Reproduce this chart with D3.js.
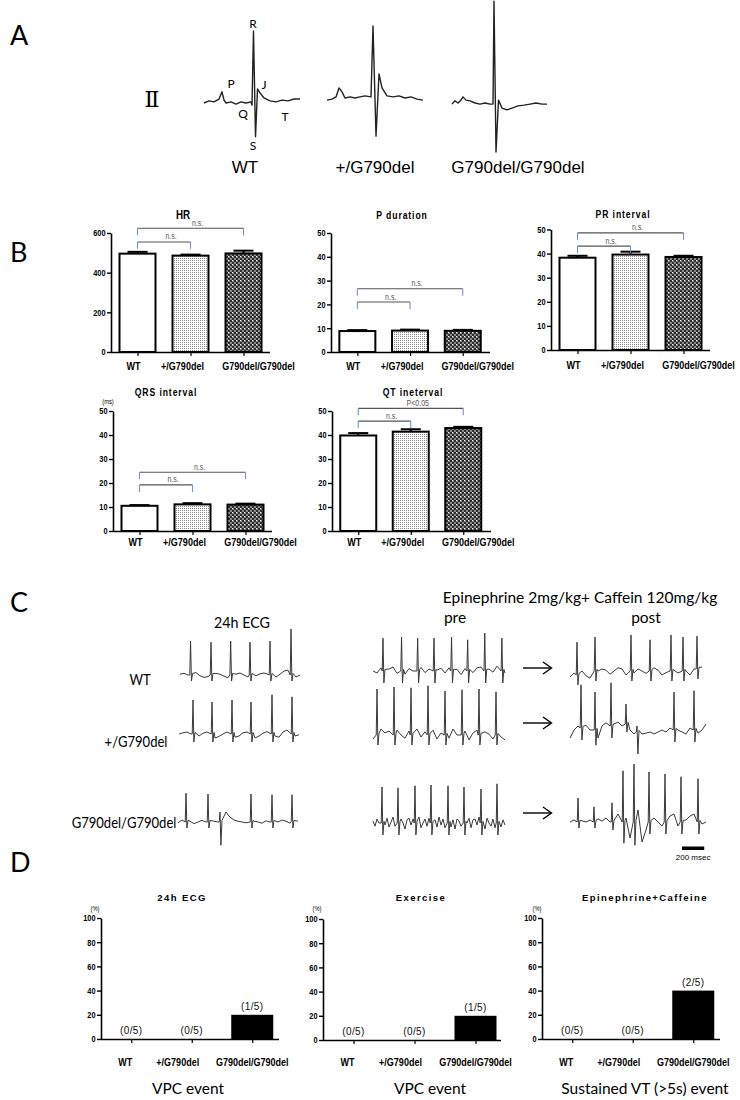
<!DOCTYPE html>
<html><head><meta charset="utf-8">
<script src="https://cdn.jsdelivr.net/npm/d3@7"></script>
<style>body{margin:0;background:#fff}svg{display:block}</style>
</head><body>
<svg id="fig" width="740" height="1100"></svg>
<script>
// ---------------- DATA ----------------
const groups = ["WT", "+/G790del", "G790del/G790del"];
// Panel B (mean, SEM)
const hrMean = [496, 486, 497], hrSem = [9, 5, 14];
const pMean = [8.8, 9.0, 8.9], pSem = [0.4, 0.4, 0.4];
const prMean = [38.3, 39.6, 38.6], prSem = [0.8, 1.2, 0.5];
const qrsMean = [10.5, 11.1, 11.0], qrsSem = [0.3, 0.5, 0.4];
const qtMean = [39.8, 41.4, 42.9], qtSem = [1.0, 1.0, 0.5];
const hrTicks = [0, 200, 400, 600];
const msTicks = [0, 10, 20, 30, 40, 50];
// significance brackets: [from, to, level, label]
const hrSig = [[0, 1, 555, "n.s."], [0, 2, 624, "n.s."]];
const pSig = [[0, 1, 21, "n.s."], [0, 2, 26.6, "n.s."]];
const prSig = [[0, 1, 43.1, "n.s."], [0, 2, 48.6, "n.s."]];
const qrsSig = [[0, 1, 19.2, "n.s."], [0, 2, 24.5, "n.s."]];
const qtSig = [[0, 1, 45.8, "n.s."], [0, 2, 51.1, "P<0.05"]];
// Panel D (% of mice)
const pctTicks = [0, 20, 40, 60, 80, 100];
const vpc24h = [0, 0, 20], vpc24hN = ["(0/5)", "(0/5)", "(1/5)"];
const vpcEx = [0, 0, 20], vpcExN = ["(0/5)", "(0/5)", "(1/5)"];
const vtEpi = [0, 0, 40], vtEpiN = ["(0/5)", "(0/5)", "(2/5)"];

// Panel A: representative lead II complexes [ms, mV]
const ecgWT = [[0,0],[10,0.06],[20,0.03],[30,0.11],[36,0.31],[40,0.08],[44,0],[54,0.03],[64,-0.03],[74,0.03],[84,0],[94,0.03],[96,-0.06],[99,2.0],[103,-0.94],[107,0.39],[112,0.28],[120,0.14],[132,0.06],[144,0.03],[156,0.08],[168,0.06],[180,0.11],[192,0.11]];
const ecgHet = [[0,-0.06],[10,-0.03],[18,0.03],[24,0.28],[30,0.17],[36,0],[46,0.03],[56,0],[66,0.03],[76,0.06],[88,0.03],[92,2.0],[98,-1.06],[104,0.67],[110,0.28],[120,0.06],[132,0.03],[144,0.06],[156,0],[168,0.03],[180,-0.03],[192,-0.06]];
const ecgHom = [[0,-0.03],[6,0.06],[12,0],[18,0.08],[22,0.17],[28,0.08],[36,0.06],[46,0],[56,-0.03],[66,0],[76,-0.03],[82,-0.03],[84,2.83],[88,-1.36],[93,0.08],[100,-0.14],[110,-0.19],[120,-0.14],[132,-0.08],[144,-0.06],[156,-0.03],[168,0],[180,-0.03],[190,-0.03]];

// Panel C: beats [ms, R, S, level] and baseline samples
const wt24Beats = [[95,0.85,0.15,0],[279,0.82,0.15,0],[456,0.85,0.15,0],[630,0.82,0.15,0],[810,0.85,0.15,0],[999,1.15,0.15,0]];
const wt24Base = [0.02,0.04,0.0,0.03,0.06,-0.02,-0.06,-0.04,0.0,0.04,0.02,-0.03,-0.07,-0.04,0.02,0.05,0.0,-0.05,-0.07,-0.02,0.03,0.05,0.02,-0.04,-0.05,0.02,0.1,0.12,0.02,-0.05,0.0];
const wtPreBeats = [[90,0.82,0.3,0],[257,0.85,0.3,0],[402,0.82,0.3,0],[549,0.82,0.3,0],[707,0.85,0.3,0],[852,0.78,0.3,0],[1006,0.95,0.3,0],[1160,0.82,0.3,0]];
const wtPreBase = [0.0,-0.05,0.08,-0.1,0.05,0.1,-0.06,0.04,-0.08,0.06,0.0,-0.07,0.09,-0.04,0.05,-0.1,0.02,0.07,-0.05,0.08,-0.02,0.04,-0.09,0.06,0.0,-0.04,0.08,0.1,-0.06,0.05,-0.03,0.12,0.0,-0.05];
const wtPostBeats = [[63,0.82,0.25,-0.1],[225,0.85,0.25,0],[549,0.9,0.25,0],[720,0.78,0.25,0],[909,0.9,0.25,0],[1017,0.85,0.25,0],[1143,0.82,0.25,0.05]];
const wtPostBase = [-0.15,-0.05,0.05,0.0,-0.12,-0.18,-0.1,0.0,0.05,0.02,-0.08,0.0,0.08,0.05,-0.1,-0.2,-0.05,0.05,0.0,-0.06,0.04,0.08,0.02,-0.1,-0.04,0.06,0.02,-0.05,0.08,0.0,-0.1,0.05,0.08,0.1];
const het24Beats = [[126,0.85,0.2,0],[297,0.8,0.2,0],[477,0.85,0.2,0],[648,0.8,0.2,0],[837,0.98,0.2,0],[1017,0.93,0.2,0]];
const het24Base = [0.0,0.03,0.05,0.0,-0.08,-0.05,0.02,0.05,0.0,-0.1,-0.06,0.0,0.05,0.02,-0.08,-0.05,0.03,0.05,0.0,-0.1,-0.05,0.02,0.06,0.03,-0.05,-0.08,0.05,0.1,0.03,-0.05,-0.02];
const hetPreBeats = [[36,1.15,0.25,0],[189,1.2,0.25,0],[342,1.18,0.25,0],[495,1.23,0.25,0],[648,1.1,0.25,0],[801,1.13,0.25,0],[954,1.15,0.25,0],[1107,1.08,0.25,0]];
const hetPreBase = [-0.1,0.02,0.15,0.05,0.1,-0.05,0.12,0.0,-0.08,0.1,0.02,0.15,-0.05,0.08,0.0,0.12,-0.1,0.05,0.1,-0.08,0.15,0.0,-0.05,0.1,-0.12,0.05,0.12,-0.05,0.08,0.02,-0.1,0.1,-0.05,-0.12];
const hetPostBeats = [[99,1.08,0.3,0.05],[225,0.95,0.38,0],[369,1.08,0.3,0.1],[504,0.5,0.2,0.15],[603,0.15,0.55,-0.05],[936,0.95,0.3,0],[1116,0.98,0.3,0]];
const hetPostBase = [-0.2,0.0,0.1,0.05,0.12,0.0,-0.1,-0.2,0.1,0.18,0.05,0.15,0.2,0.1,0.25,0.0,-0.1,-0.15,-0.1,-0.08,-0.05,-0.1,-0.05,0.0,-0.05,0.05,0.1,0.0,-0.05,-0.1,0.05,0.0,-0.08,0.0,0.15];
const hom24Beats = [[72,0.72,0.15,0],[270,0.7,0.15,0],[378,0.25,0.58,0],[657,0.7,0.15,0],[846,0.68,0.15,0],[1026,0.68,0.15,0]];
const hom24Base = [-0.02,0.05,0.0,0.02,-0.04,0.0,0.04,0.0,-0.03,0.02,0.0,0.2,0.25,0.12,0.05,0.02,0.0,-0.02,0.0,0.02,0.0,-0.03,0.03,0.0,-0.05,0.0,0.05,0.02,-0.03,0.05,0.02];
const homPreBeats = [[81,0.9,0.3,0],[225,0.88,0.3,0],[378,0.93,0.3,0],[522,0.95,0.3,0],[675,0.93,0.3,0],[819,0.9,0.3,0],[972,0.85,0.3,0],[1116,0.98,0.3,0]];
const homPreBase = [0.05,-0.08,0.1,0.0,-0.12,0.08,-0.05,0.12,-0.1,0.02,0.15,-0.08,0.05,-0.12,0.1,0.0,-0.15,0.08,0.12,-0.05,0.1,-0.1,0.05,0.15,-0.12,0.0,0.1,-0.08,0.12,-0.15,0.05,0.08,-0.1,0.15,-0.05,0.1,-0.12,0.02,0.12,-0.1,0.08,-0.15,0.1,0.05,-0.08,0.15,-0.1,0.0,0.12,-0.12,0.08,0.1,-0.05,0.15,-0.1,0.05,-0.15,0.12,0.0,-0.08,0.1,-0.12,0.15,0.05,-0.1,0.08,-0.05];
const homPostBeats = [[72,0.6,0.15,0],[216,0.38,0.15,0],[378,0.48,0.2,0],[477,1.28,0.53,0],[576,1.45,0.58,0],[711,1.25,0.3,0],[855,1.2,0.3,0],[999,1.13,0.3,0],[1152,1.08,0.3,0]];
const homPostBase = [0.0,0.05,-0.02,0.03,0.0,0.05,-0.02,0.08,0.02,0.1,0.0,-0.2,0.2,-0.3,0.1,-0.4,-0.2,0.3,-0.5,-0.2,0.15,0.1,0.0,-0.1,0.05,0.15,0.2,-0.1,0.0,0.05,0.15,0.2,-0.15,-0.05,0.0];
const scaleBarMs = 200;

// ---------------- LAYOUT / STYLE ----------------
const BOLD = "'Liberation Sans',Arial,sans-serif";
const ARIAL = "'Liberation Sans',Arial,sans-serif";
const CAL = "Lato,'Open Sans',sans-serif";
const SQ = 0.82; // horizontal squeeze that imitates a condensed face
const svg = d3.select("#fig");

const defs = svg.append("defs");
const dots = defs.append("pattern").attr("id", "dots").attr("patternUnits", "userSpaceOnUse").attr("width", 2).attr("height", 2);
dots.append("rect").attr("width", 2).attr("height", 2).attr("fill", "#fff");
dots.append("rect").attr("width", 1).attr("height", 1).attr("fill", "#8c8c8c");
const chk = defs.append("pattern").attr("id", "check").attr("patternUnits", "userSpaceOnUse").attr("width", 4).attr("height", 4);
chk.append("rect").attr("width", 4).attr("height", 4).attr("fill", "#2e2e2e");
chk.append("rect").attr("width", 2).attr("height", 2).attr("fill", "#8a8a8a");
chk.append("rect").attr("x", 2).attr("y", 2).attr("width", 2).attr("height", 2).attr("fill", "#8a8a8a");
chk.append("rect").attr("width", 1).attr("height", 1).attr("fill", "#fff");

const barFills = ["#fff", "url(#dots)", "url(#check)"];

function text(x, y, s, o = {}, parent = svg) {
  const t = parent.append("text").text(s)
    .attr("font-family", o.ff || ARIAL).attr("font-size", o.fs || 12)
    .attr("font-weight", o.fw || "normal").attr("text-anchor", o.anchor || "middle")
    .attr("letter-spacing", o.ls || 0).attr("fill", o.fill || "#000");
  if (o.sq) t.attr("transform", `translate(${x},${y}) scale(${o.sq},1)`);
  else t.attr("x", x).attr("y", y);
  return t;
}

function barChart(c) {
  const g = svg.append("g");
  const x = d3.scalePoint().domain(groups).range([c.ax, c.ax + 3 * c.step]).padding(0.5);
  const y = d3.scaleLinear().domain([0, c.max]).range([c.y0, c.y1]);
  g.selectAll("rect.bar").data(c.mean).join("rect").attr("class", "bar")
    .attr("x", (d, i) => x(groups[i]) - c.bw / 2).attr("width", c.bw)
    .attr("y", d => y(d)).attr("height", d => c.y0 - y(d))
    .attr("fill", (d, i) => c.fills[i])
    .attr("stroke", c.stroke ? "#000" : "none").attr("stroke-width", 2);
  if (c.sem) {
    c.mean.forEach((m, i) => {
      const cx = x(groups[i]);
      g.append("line").attr("x1", cx).attr("x2", cx).attr("y1", y(m)).attr("y2", y(m + c.sem[i])).attr("stroke", "#000").attr("stroke-width", 2);
      g.append("line").attr("x1", cx - 10).attr("x2", cx + 10).attr("y1", y(m + c.sem[i])).attr("y2", y(m + c.sem[i])).attr("stroke", "#000").attr("stroke-width", 2);
    });
  }
  const ya = g.append("g").attr("transform", `translate(${c.ax},0)`)
    .call(d3.axisLeft(y).tickValues(c.ticks).tickSize(4).tickSizeOuter(0).tickPadding(1.5));
  ya.select(".domain").attr("stroke-width", 1.6);
  ya.selectAll(".tick line").attr("stroke-width", 1.4);
  ya.selectAll("text").attr("font-family", BOLD).attr("font-weight", "bold").attr("font-size", 9)
    .attr("fill", "#000").attr("x", -5.5 / SQ).attr("transform", `scale(${SQ},1)`);
  const xa = g.append("g").attr("transform", `translate(0,${c.y0})`)
    .call(d3.axisBottom(x).tickSize(4).tickSizeOuter(0).tickFormat(""));
  xa.select(".domain").attr("stroke-width", 1.6).attr("d", `M${c.ax},0.5H${c.ax + c.xlen}`);
  xa.selectAll(".tick line").attr("stroke-width", 1.2);
  groups.forEach((gr, i) => text(x(gr) + c.labShift[i], c.catY, gr, { ff: BOLD, fw: "bold", fs: 11, sq: SQ }, g));
  (c.sig || []).forEach(s => {
    const xa1 = x(groups[s[0]]), xa2 = x(groups[s[1]]), yy = y(s[2]);
    g.append("line").attr("x1", xa1).attr("x2", xa2).attr("y1", yy).attr("y2", yy).attr("stroke", "#555").attr("stroke-width", 1.1);
    [xa1, xa2].forEach(xx => g.append("line").attr("x1", xx).attr("x2", xx).attr("y1", yy).attr("y2", yy + 7).attr("stroke", "#6f93d8").attr("stroke-width", 1.1));
    text((xa1 + xa2) / 2 + 7, yy - 2.5, s[3], { ff: ARIAL, fs: 8.5, fill: "#555", sq: SQ }, g);
  });
  if (c.nLabels) {
    c.mean.forEach((m, i) => text(x(groups[i]), y(m) - 5, c.nLabels[i], { ff: ARIAL, fs: 10, ls: 0.4, fill: "#111" }, g));
  }
  text(c.tx, c.ty, c.title, { ff: BOLD, fw: "bold", fs: c.ts, ls: c.tls, sq: c.tsq });
  if (c.unit) text(c.unitX, c.unitY, c.unit, { ff: ARIAL, fs: 7, sq: SQ });
}

// Panel letters
[["A", 45], ["B", 262], ["C", 612], ["D", 872]].forEach(([s, y]) => text(10, y, s, { ff: CAL, fs: 27, anchor: "start" }));

// ---------------- Panel A ----------------
text(152, 107, "Ⅱ", { ff: "'DejaVu Serif',serif", fs: 22 });
const aTraces = [
  { data: ecgWT, x0: 204, base: 103 },
  { data: ecgHet, x0: 327, base: 98 },
  { data: ecgHom, x0: 452, base: 103 }
];
aTraces.forEach(t => {
  const x = d3.scaleLinear().domain([0, 192]).range([t.x0, t.x0 + 96]);
  const y = d3.scaleLinear().domain([0, 1]).range([t.base, t.base - 36]);
  svg.append("path").datum(t.data).attr("d", d3.line().x(d => x(d[0])).y(d => y(d[1])))
    .attr("fill", "none").attr("stroke", "#222").attr("stroke-width", 1.4).attr("stroke-linejoin", "round");
});
[["P", 231, 88], ["R", 253, 28], ["J", 264, 89], ["Q", 243, 118], ["T", 285, 121], ["S", 253, 150]].forEach(([s, x, y]) => text(x, y, s, { ff: CAL, fs: 12 }));
text(245, 173, "WT", { fs: 17 });
text(375, 173, "+/G790del", { fs: 17 });
text(518, 173, "G790del/G790del", { fs: 17 });

// ---------------- Panel B ----------------
const bShift = [-4, -8, 15];
const bCharts = [
  { title: "HR", ts: 12, tls: 0, tsq: SQ, tx: 183, ty: 219, ax: 111, step: 53, y0: 352, y1: 233, max: 600, ticks: hrTicks, mean: hrMean, sem: hrSem, sig: hrSig, catY: 370 },
  { title: "P duration", ts: 10.5, tls: 1.1, tsq: SQ, tx: 402, ty: 219, ax: 331, step: 52.7, y0: 352, y1: 233, max: 50, ticks: msTicks, mean: pMean, sem: pSem, sig: pSig, catY: 370 },
  { title: "PR interval", ts: 10.5, tls: 1.1, tsq: SQ, tx: 623, ty: 218, ax: 551, step: 53, y0: 350, y1: 229.5, max: 50, ticks: msTicks, mean: prMean, sem: prSem, sig: prSig, catY: 369 },
  { title: "QRS interval", ts: 10.5, tls: 1.1, tsq: SQ, tx: 166, ty: 396, ax: 113, step: 53, y0: 531, y1: 411, max: 50, ticks: msTicks, mean: qrsMean, sem: qrsSem, sig: qrsSig, catY: 546, unit: "(ms)", unitX: 108, unitY: 404 },
  { title: "QT ineterval", ts: 10.5, tls: 1.1, tsq: SQ, tx: 413, ty: 396, ax: 332, step: 52.5, y0: 531, y1: 411, max: 50, ticks: msTicks, mean: qtMean, sem: qtSem, sig: qtSig, catY: 546 }
];
bCharts.forEach(c => barChart(Object.assign({ bw: 36, xlen: 159, fills: barFills, stroke: true, labShift: bShift }, c)));

// ---------------- Panel C ----------------
text(242, 628, "24h ECG", { ff: CAL, fs: 15.5, sq: 0.92 });
text(580, 603, "Epinephrine 2mg/kg+ Caffein 120mg/kg", { ff: CAL, fs: 15.5 });
text(455, 623, "pre", { ff: CAL, fs: 15.5 });
text(646, 623, "post", { ff: CAL, fs: 15.5 });
text(140, 685, "WT", { ff: CAL, fs: 14.5, sq: 0.9 });
text(136, 747, "+/G790del", { ff: CAL, fs: 14.5, sq: 0.9 });
text(124, 828, "G790del/G790del", { ff: CAL, fs: 14.5, sq: 0.9 });

function tracePoints(beats, base, step) {
  const pts = [];
  base.forEach((v, i) => {
    const t = i * step;
    if (!beats.some(b => t > b[0] - 14 && t < b[0] + 26)) pts.push([t, v]);
  });
  beats.forEach(([t, R, S, l]) => {
    pts.push([t - 7, l], [t, l + R], [t + 8, l - S], [t + 18, l + 0.04]);
  });
  return pts.sort((a, b) => a[0] - b[0]);
}
const cTraces = [
  { beats: wt24Beats, base: wt24Base, step: 36, x0: 180, y0: 675 },
  { beats: wtPreBeats, base: wtPreBase, step: 36, x0: 373, y0: 671 },
  { beats: wtPostBeats, base: wtPostBase, step: 36, x0: 570, y0: 671 },
  { beats: het24Beats, base: het24Base, step: 36, x0: 179, y0: 734 },
  { beats: hetPreBeats, base: hetPreBase, step: 36, x0: 373, y0: 735 },
  { beats: hetPostBeats, base: hetPostBase, step: 36, x0: 570, y0: 730 },
  { beats: hom24Beats, base: hom24Base, step: 36, x0: 178, y0: 822 },
  { beats: homPreBeats, base: homPreBase, step: 18, x0: 373, y0: 823 },
  { beats: homPostBeats, base: homPostBase, step: 36, x0: 570, y0: 822 }
];
const msPerPx = 9;
cTraces.forEach(t => {
  const x = d3.scaleLinear().domain([0, msPerPx]).range([t.x0, t.x0 + 1]);
  const y = d3.scaleLinear().domain([0, 1]).range([t.y0, t.y0 - 40]);
  svg.append("path").datum(tracePoints(t.beats, t.base, t.step))
    .attr("d", d3.line().x(d => x(d[0])).y(d => y(d[1])))
    .attr("fill", "none").attr("stroke", "#3a3a3a").attr("stroke-width", 1).attr("stroke-linejoin", "round");
});
[668, 723, 813].forEach(yy => {
  svg.append("line").attr("x1", 523).attr("x2", 551).attr("y1", yy).attr("y2", yy).attr("stroke", "#000").attr("stroke-width", 1.4);
  svg.append("path").attr("d", `M543,${yy - 6}L551.5,${yy}L543,${yy + 6}`).attr("fill", "none").attr("stroke", "#000").attr("stroke-width", 1.4);
});
{
  const x = d3.scaleLinear().domain([0, msPerPx]).range([570, 571]);
  svg.append("rect").attr("x", x(1008)).attr("y", 846.5).attr("width", x(1008 + scaleBarMs) - x(1008)).attr("height", 3.5).attr("fill", "#000");
  text((x(1008) + x(1008 + scaleBarMs)) / 2, 860, "200 msec", { ff: ARIAL, fs: 8 });
}

// ---------------- Panel D ----------------
const dShift = [-6, -14, 0];
const dCharts = [
  { title: "24h ECG", tx: 182, mean: vpc24h, nLabels: vpc24hN, ax: 101, step: 60.5, y0: 1039, y1: 918, unitX: 95, foot: "VPC event", footX: 188 },
  { title: "Exercise", tx: 421, mean: vpcEx, nLabels: vpcExN, ax: 323, step: 61, y0: 1040, y1: 919, unitX: 317, foot: "VPC event", footX: 430 },
  { title: "Epinephrine+Caffeine", tx: 645, mean: vtEpi, nLabels: vtEpiN, ax: 542, step: 60.5, y0: 1039, y1: 918, unitX: 537, foot: "Sustained VT (>5s) event", footX: 645 }
];
dCharts.forEach(c => {
  barChart(Object.assign({ ts: 9.5, tls: 1.4, ty: 901, max: 100, ticks: pctTicks, bw: 42, xlen: 178, fills: ["#000", "#000", "#000"], stroke: false, catY: 1066, unit: "(%)", unitY: 911, labShift: dShift }, c));
  text(c.footX, 1094, c.foot, { ff: CAL, fs: 15.5 });
});
</script>
</body></html>
